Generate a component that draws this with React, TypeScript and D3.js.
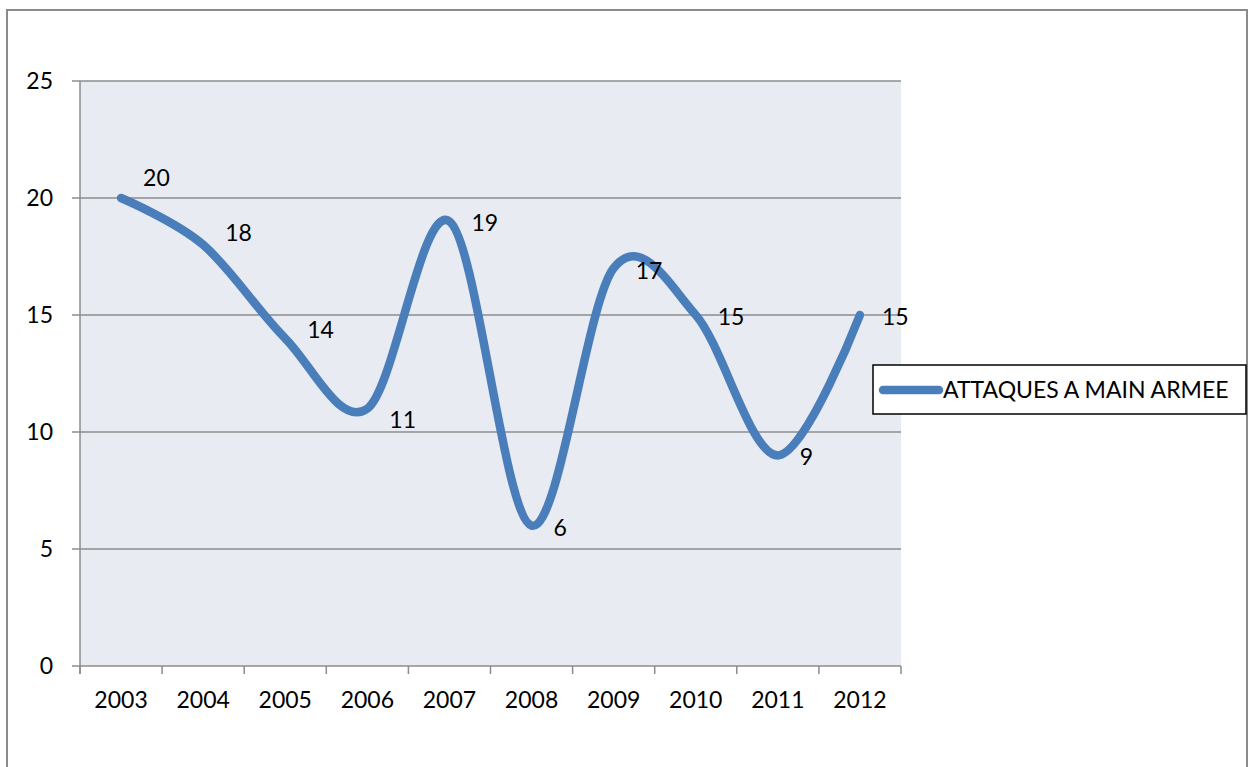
import React from "react";
import * as d3 from "d3";

const years = ["2003", "2004", "2005", "2006", "2007", "2008", "2009", "2010", "2011", "2012"];
const attaques = [20, 18, 14, 11, 19, 6, 17, 15, 9, 15];
const yTicks = [0, 5, 10, 15, 20, 25];
const seriesName = "ATTAQUES A MAIN ARMEE";
// vertical nudges for the value labels (px)
const labelNudge = [-20, -12, -8, 11, 2, 2, 3, 2, 2, 2];

const W = 1248;
const H = 767;
const plot = { left: 80, right: 901, top: 81, bottom: 666 };
const FONT = "Lato, 'Open Sans', sans-serif";
const FS = 23;
const BLUE = "#4a7ebb";
const GRID = "#8c8c8c";

export default function App() {
  const x = d3.scaleBand<string>().domain(years).range([plot.left, plot.right]).paddingInner(0).paddingOuter(0);
  const y = d3.scaleLinear().domain([0, 25]).range([plot.bottom, plot.top]);
  const cx = (yr: string) => (x(yr) as number) + x.bandwidth() / 2;

  const pts: [number, number][] = years.map((yr, i) => [cx(yr), y(attaques[i])]);
  const line = d3.line().curve(d3.curveCardinal.tension(0))(pts) as string;

  const boundaries = years.map((yr) => x(yr) as number).concat([plot.right]);

  return (
    <svg
      width={W}
      height={H}
      style={{ position: "absolute", left: 0, top: 0, background: "#fff" }}
      fontFamily={FONT}
    >
      {/* chart frame */}
      <rect x={7} y={10} width={1240} height={800} fill="#fff" stroke="#8a8a8a" strokeWidth={2} />

      {/* plot area */}
      <rect
        x={plot.left}
        y={plot.top}
        width={plot.right - plot.left}
        height={plot.bottom - plot.top}
        fill="#e8ecf2"
      />

      {/* horizontal gridlines with left tick stubs */}
      {yTicks.map((t) => (
        <g key={t}>
          <line x1={72} x2={plot.right} y1={y(t)} y2={y(t)} stroke={GRID} strokeWidth={1.5} />
          <text x={53} y={y(t)} dy="0.35em" textAnchor="end" fontSize={FS} fill="#000">
            {t}
          </text>
        </g>
      ))}

      {/* value axis line */}
      <line x1={plot.left} x2={plot.left} y1={plot.top} y2={plot.bottom + 8} stroke={GRID} strokeWidth={1.5} />

      {/* category axis ticks and labels */}
      {boundaries.map((bx, i) => (
        <line key={i} x1={bx} x2={bx} y1={plot.bottom} y2={plot.bottom + 8} stroke={GRID} strokeWidth={1.5} />
      ))}
      {years.map((yr) => (
        <text key={yr} x={cx(yr)} y={700} dy="0.35em" textAnchor="middle" fontSize={FS} fill="#000">
          {yr}
        </text>
      ))}

      {/* smoothed series line */}
      <path d={line} fill="none" stroke={BLUE} strokeWidth={8.5} strokeLinecap="round" strokeLinejoin="round" />

      {/* data labels */}
      {years.map((yr, i) => (
        <text
          key={yr}
          x={cx(yr) + 22}
          y={y(attaques[i]) + labelNudge[i]}
          dy="0.35em"
          fontSize={FS}
          fill="#000"
        >
          {attaques[i]}
        </text>
      ))}

      {/* legend */}
      <rect x={873} y={365} width={373} height={49} fill="#fff" stroke="#000" strokeWidth={1.5} />
      <line x1={883} x2={939} y1={390} y2={390} stroke={BLUE} strokeWidth={8.5} strokeLinecap="round" />
      <text x={943} y={390} dy="0.35em" fontSize={FS} fill="#000">
        {seriesName}
      </text>
    </svg>
  );
}
